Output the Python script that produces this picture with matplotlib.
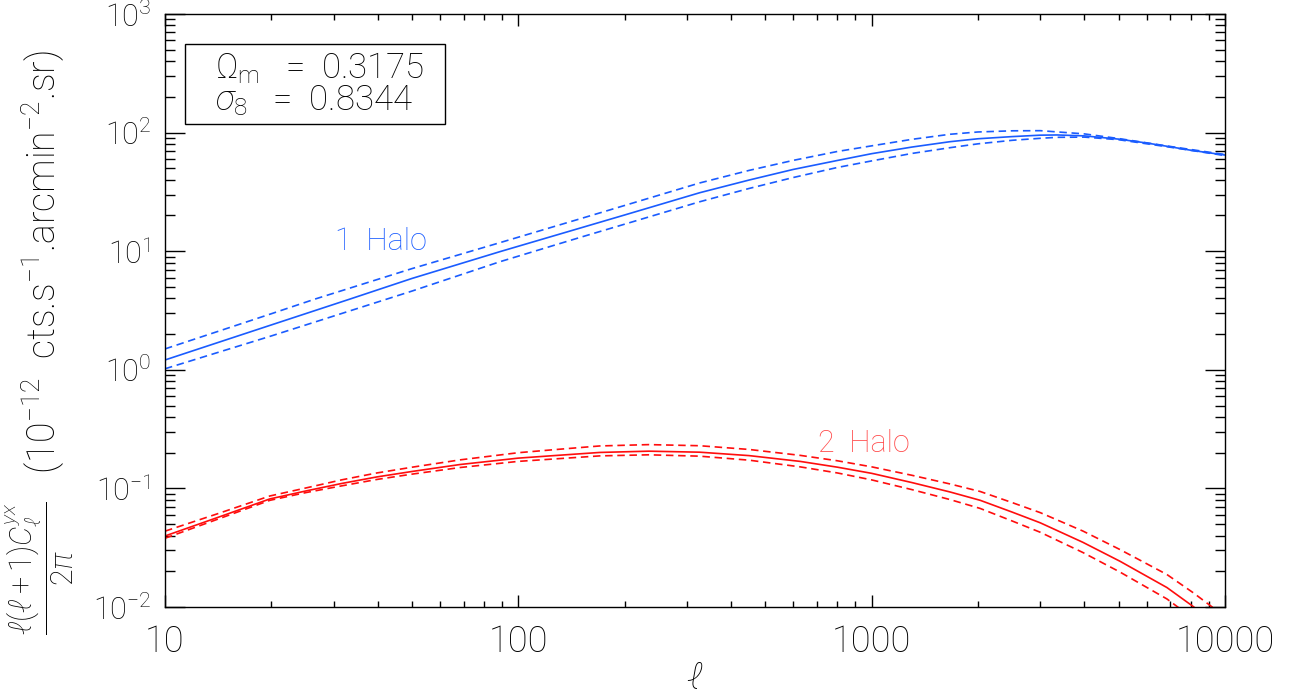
import matplotlib
matplotlib.use('Agg')
import matplotlib.pyplot as plt
from matplotlib.patches import Rectangle
from matplotlib.ticker import LogLocator, NullFormatter, FixedLocator, FixedFormatter

plt.rcParams['font.family'] = ['Roboto', 'DejaVu Sans']
plt.rcParams['font.weight'] = 'light'
plt.rcParams['axes.labelweight'] = 'light'
plt.rcParams['mathtext.fontset'] = 'custom'
plt.rcParams['mathtext.rm'] = 'Roboto:light'
plt.rcParams['mathtext.it'] = 'Roboto:italic:light'
plt.rcParams['mathtext.cal'] = 'Roboto:light'

# 1-halo term (blue): central value and the two dashed bounds
ell_1h = [10, 20, 33.4, 50, 88.7, 150, 200, 326, 450, 600, 800, 1000, 1300, 1667,
          2000, 2500, 3000, 3350, 4000, 5000, 6000, 7000, 8000, 10000]
one_halo = [1.21, 2.39, 3.95, 5.89, 9.91, 15.7, 20.2, 31.1, 39.8, 48.9, 58.2, 66.4, 75.5, 83.8,
            88.7, 92.5, 95.1, 95.5, 93.8, 88.1, 81.7, 75.9, 71.0, 64.7]
ell_1h_up = [10, 20, 26.6, 50, 88.7, 150, 200, 326, 450, 600, 800, 1000, 1300, 1667,
             2000, 2500, 3000, 4000, 5000, 7000, 10000]
one_halo_up = [1.50, 2.97, 3.95, 7.13, 11.8, 18.8, 24.3, 37.6, 48.0, 58.3, 69.3, 77.3, 87.7, 96.8,
               101.2, 103.5, 103.8, 97.5, 89.1, 76.4, 65.3]
ell_1h_lo = [10, 20, 50, 88.7, 150, 200, 326, 450, 600, 800, 1000, 1300, 1667,
             2000, 2500, 3000, 3350, 4000, 5000, 7000, 10000]
one_halo_lo = [1.02, 1.93, 4.61, 8.15, 13.1, 16.9, 26.1, 33.8, 41.8, 50.8, 57.7, 66.7, 74.6,
               80.4, 86.1, 89.5, 91.2, 91.6, 87.1, 75.3, 64.0]

# 2-halo term (red)
ell_2h = [10, 14.1, 19.8, 25.1, 31.6, 39.8, 50.1, 68.4, 100, 126, 170, 234, 326, 450, 627,
          800, 1000, 1300, 1667, 2028, 2500, 3000, 3963, 5047, 6850, 8130, 10000]
two_halo = [0.0397, 0.0569, 0.0815, 0.0953, 0.110, 0.125, 0.139, 0.159, 0.180, 0.189, 0.201,
            0.206, 0.202, 0.189, 0.169, 0.151, 0.134, 0.112, 0.0933, 0.0794, 0.0631, 0.0513,
            0.0351, 0.0243, 0.0146, 0.0101, 0.0063]
two_halo_up = [0.0436, 0.0612, 0.0863, 0.101, 0.118, 0.135, 0.151, 0.174, 0.200, 0.212, 0.228,
               0.234, 0.229, 0.213, 0.190, 0.171, 0.152, 0.129, 0.109, 0.0942, 0.0759, 0.0625,
               0.0437, 0.0305, 0.0188, 0.0132, 0.0083]
two_halo_lo = [0.0380, 0.0550, 0.0793, 0.0923, 0.105, 0.119, 0.132, 0.150, 0.169, 0.177, 0.188,
               0.192, 0.187, 0.173, 0.152, 0.135, 0.118, 0.0977, 0.0805, 0.0678, 0.0531, 0.0427,
               0.0288, 0.0197, 0.0117, 0.0080, 0.0050]

xticks = [10, 100, 1000, 10000]
xticklabels = ['10', '100', '1000', '10000']

blue = '#1a5cff'
red = '#ff0d0d'
dash = (4.5, 2.8)

fig = plt.figure(figsize=(12.92, 6.99), dpi=100)
ax = fig.add_axes([0.1277, 0.1316, 0.8204, 0.8484])

ax.plot(ell_1h, one_halo, color=blue, lw=1.2)
ax.plot(ell_1h_up, one_halo_up, color=blue, lw=1.2, dashes=dash)
ax.plot(ell_1h_lo, one_halo_lo, color=blue, lw=1.2, dashes=dash)
ax.plot(ell_2h, two_halo, color=red, lw=1.2)
ax.plot(ell_2h, two_halo_up, color=red, lw=1.2, dashes=dash)
ax.plot(ell_2h, two_halo_lo, color=red, lw=1.2, dashes=dash)

ax.set_xscale('log')
ax.set_yscale('log')
ax.set_xlim(10, 10000)
ax.set_ylim(1e-2, 1e3)

ax.xaxis.set_major_locator(FixedLocator(xticks))
ax.xaxis.set_major_formatter(FixedFormatter(xticklabels))
ax.xaxis.set_minor_locator(LogLocator(base=10, subs=range(2, 10), numticks=20))
ax.xaxis.set_minor_formatter(NullFormatter())
ax.yaxis.set_major_locator(LogLocator(base=10, numticks=10))
ax.yaxis.set_minor_locator(LogLocator(base=10, subs=range(2, 10), numticks=20))
ax.yaxis.set_minor_formatter(NullFormatter())

ax.tick_params(axis='both', which='both', direction='in', top=True, right=True, width=1.0)
ax.tick_params(axis='x', which='major', length=8.6, labelsize=26, pad=12)
ax.tick_params(axis='x', which='minor', length=4.3)
ax.tick_params(axis='y', which='major', length=14.4, labelsize=22, pad=10)
ax.tick_params(axis='y', which='minor', length=7.2)
for s in ax.spines.values():
    s.set_linewidth(1.0)

ax.set_xlabel(r'$\ell$', fontsize=26, labelpad=1)

# y label: fraction and units placed as two rotated texts
fig.text(40 / 1292, 1 - 568 / 699, r'$\dfrac{\ell(\ell+1)C_\ell^{yx}}{2\pi}$', rotation=90,
         ha='center', va='center', fontsize=22)
fig.text(43 / 1292, 1 - 262 / 699, r'(10$^{-12}$  cts.s$^{-1}$.arcmin$^{-2}$.sr)', rotation=90,
         ha='center', va='center', fontsize=27)

ax.text(0.160, 0.602, '1  Halo', transform=ax.transAxes, color=blue, fontsize=22)
ax.text(0.616, 0.261, '2  Halo', transform=ax.transAxes, color=red, fontsize=22, alpha=0.75)

# parameter box
ax.add_patch(Rectangle((0.019, 0.8145), 0.245, 0.1345, transform=ax.transAxes,
                       fill=False, ec='black', lw=1.0))
ax.text(0.047, 0.892, r'$\Omega_{\rm m}$   =  0.3175', transform=ax.transAxes, fontsize=25)
ax.text(0.047, 0.838, r'$\sigma_8$   =  0.8344', transform=ax.transAxes, fontsize=25)

fig.savefig('out.png', dpi=100)
